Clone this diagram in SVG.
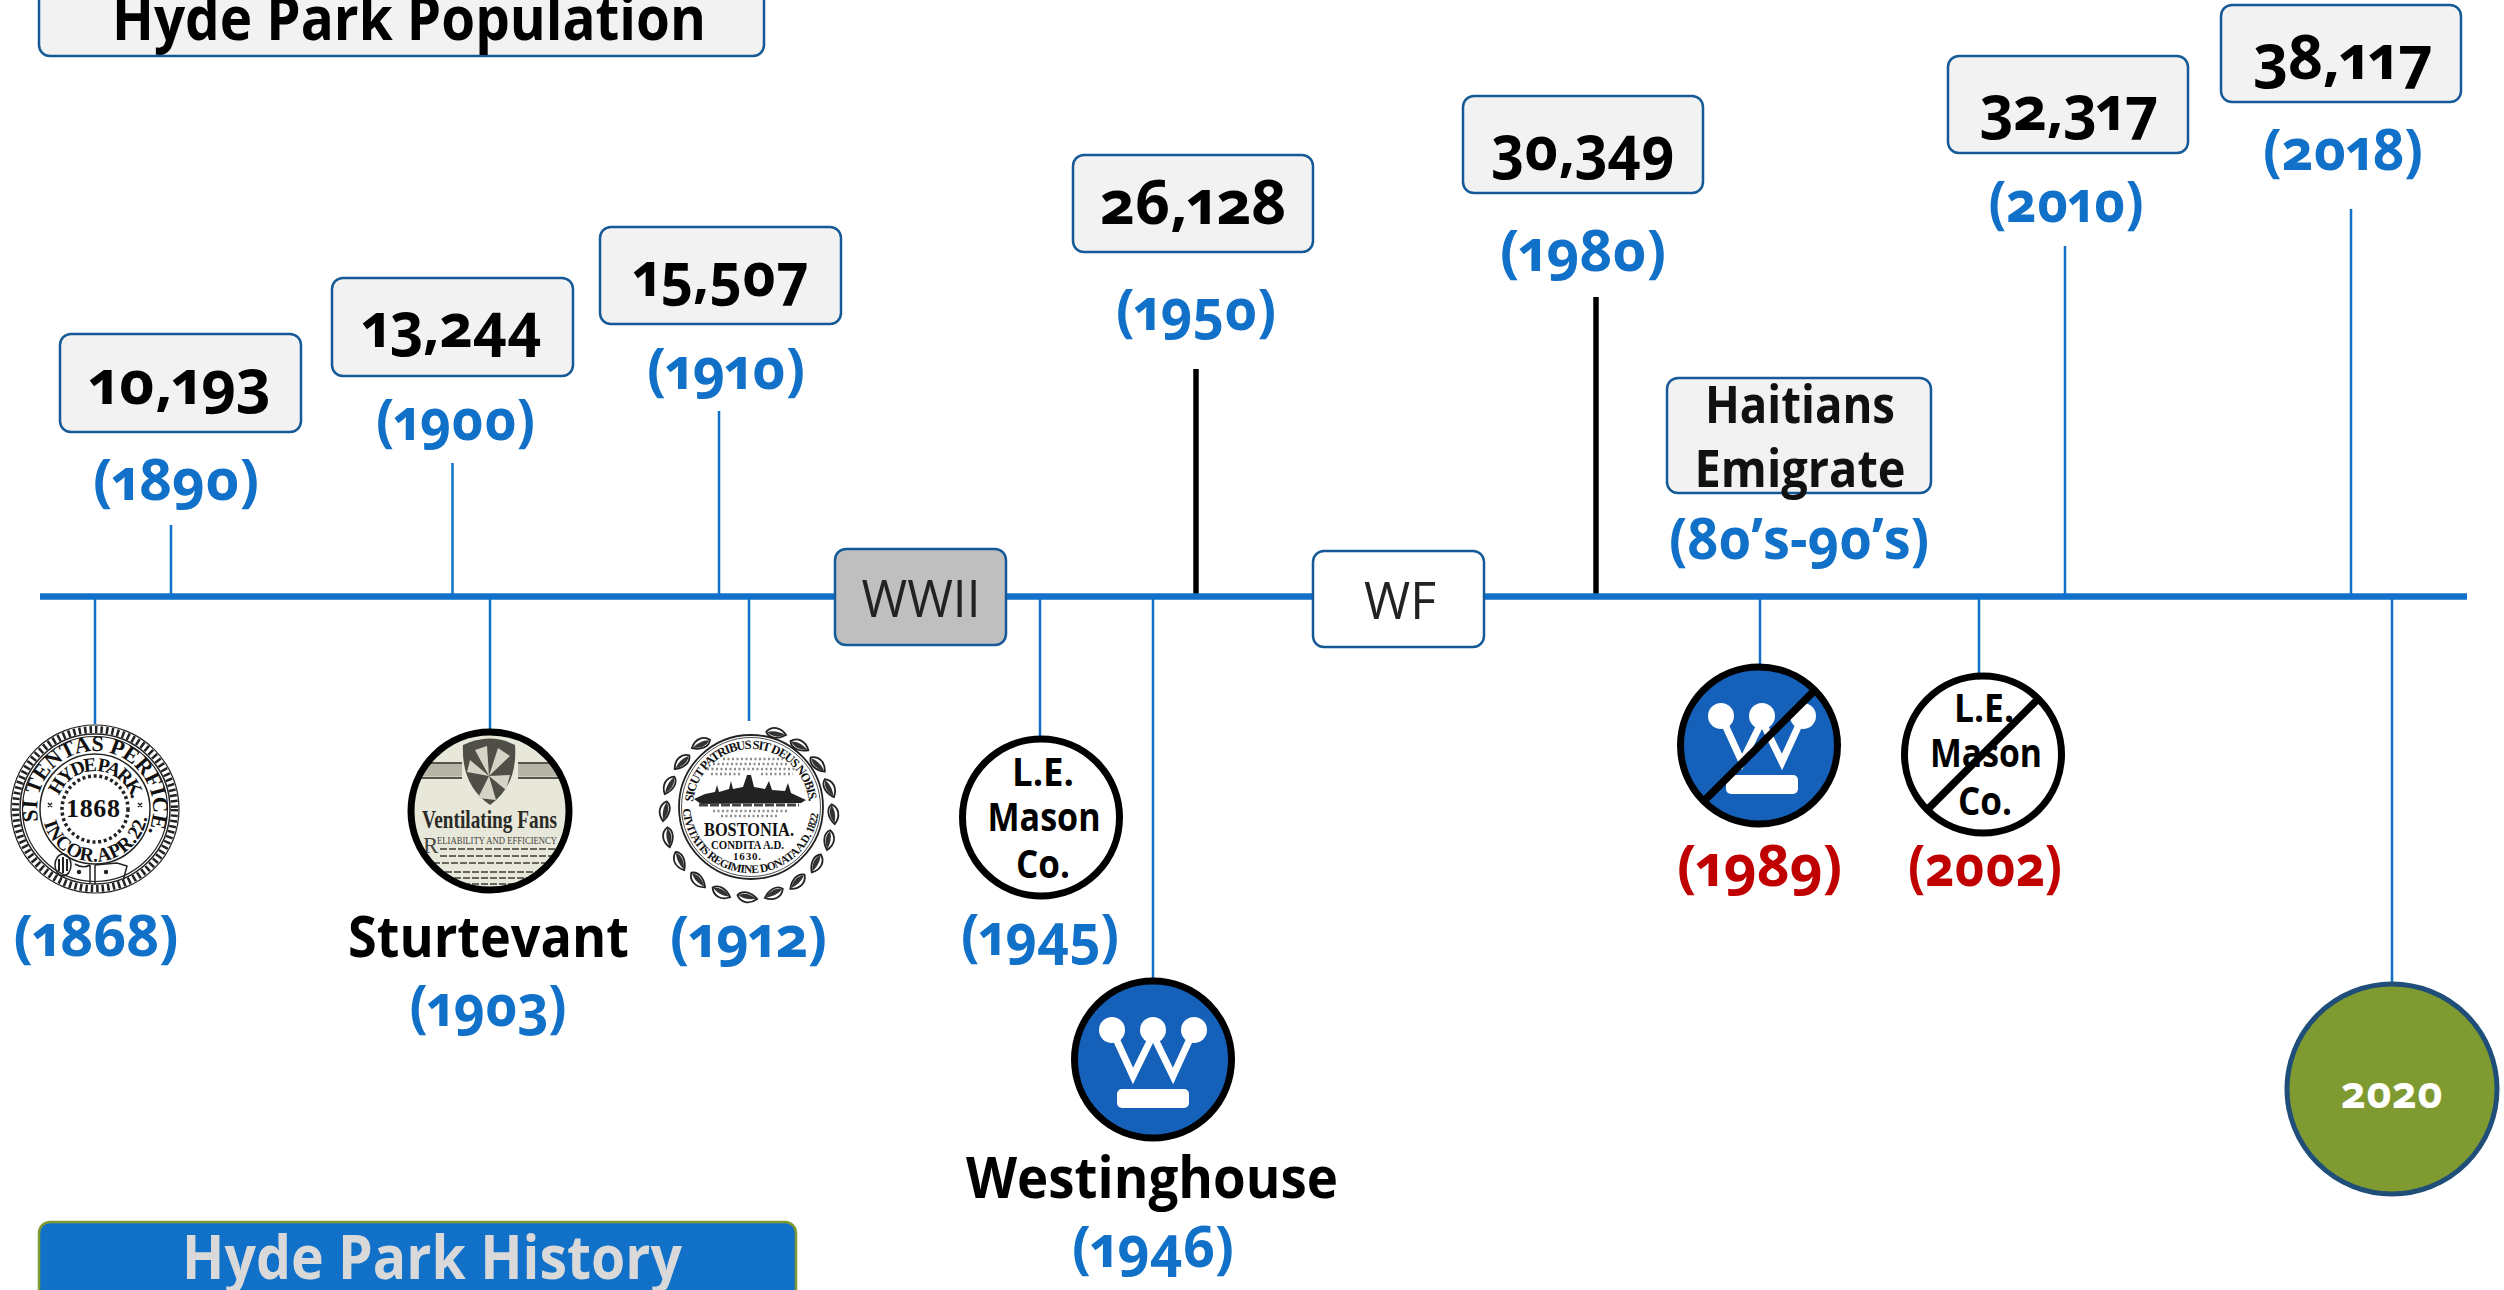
<svg xmlns="http://www.w3.org/2000/svg" width="2504" height="1290" viewBox="0 0 2504 1290">
<style>
text{font-family:"Open Sans","Noto Sans","Liberation Sans",sans-serif;font-feature-settings:"onum","pnum";font-variant-numeric:oldstyle-nums proportional-nums;text-anchor:middle}
.yr{font-size:58px;font-weight:700;fill:#1170C8}
.red{font-size:58px;font-weight:700;fill:#C00000}
.pop{font-size:60px;font-weight:700;fill:#000}
.name{font-size:58px;font-weight:700;fill:#000}
.co{font-size:39px;font-weight:700;fill:#000}
.box{fill:#F2F2F2;stroke:#155A96;stroke-width:2.5}
.lb{font-size:52px;font-weight:700;fill:#111}
.up{stroke:#1170C8;stroke-width:2.5;fill:none}
.dn{stroke:#1170C8;stroke-width:2.5;fill:none}
.blk{stroke:#000;stroke-width:5.5;fill:none}
.rg{stroke:#000;stroke-width:7}
.s{font-family:"Liberation Serif",serif;font-feature-settings:normal;font-variant-numeric:normal;font-weight:700;fill:#111;text-anchor:start}
.s2{stroke:#222;fill:none}
</style>
<defs>
<g id="crown">
<circle cx="-41" cy="-29" r="13" fill="#fff"/><circle cx="0" cy="-29" r="13" fill="#fff"/><circle cx="41" cy="-29" r="13" fill="#fff"/>
<path d="M-41 -29L-20 17L0 -24L20 17L41 -29" fill="none" stroke="#fff" stroke-width="7"/>
<rect x="-36" y="30" width="72" height="19" rx="5" fill="#fff"/>
</g>
<g id="leaf"><path d="M0 0C4 -7 13 -8 20 -1C13 5 4 6 0 0Z" fill="#fff" stroke="#222" stroke-width="1.8"/><path d="M1 0C6 -3 13 -3 19 -1C13 3 6 4 1 0Z" fill="#333"/></g>
<clipPath id="sc"><circle cx="490" cy="811" r="79"/></clipPath>
<path id="a1" d="M-56.7 12A58 58 0 1 1 53.4 22.7"/>
<path id="a2" d="M-35.7 -13A38 38 0 0 1 36.7 -9.8"/>
<path id="a3" d="M-51 14A53 53 0 0 0 52 10"/>
<path id="b1" d="M-57.8 -5A58 58 0 0 1 57.8 -5"/>
<path id="b2" d="M-68 2A68 68 0 0 0 67 9"/>
</defs>

<g id="connectors">
<path class="up" d="M171 596V525M452.500 596V463M719 596V411M2065 596V246M2351 596V209"/>
<path class="blk" d="M1196 596V369M1596 596V297"/>
<path class="dn" d="M95 596V724M490 596V730M749 596V721M1040 596V736M1153 596V979M1760 596V664M1979 596V673M2392 596V984"/>
<path id="axis" d="M40 596.500H2467" stroke="#1170C8" stroke-width="6.500" fill="none"/>
</g>

<g id="title-population"><rect class="box" x="39" y="-30" width="725" height="86" rx="11"/><text x="409" y="40" font-size="60" font-weight="700" textLength="594" lengthAdjust="spacingAndGlyphs">Hyde Park Population</text></g>
<g id="title-history"><rect x="39" y="1222" width="757" height="90" rx="11" fill="#1170C8" stroke="#7F9A30" stroke-width="2.500"/><text x="432" y="1279" font-size="60" font-weight="700" fill="#D9D9D9" textLength="500" lengthAdjust="spacingAndGlyphs">Hyde Park History</text></g>

<g id="p1890"><rect class="box" x="60" y="334" width="241" height="98" rx="11"/><text class="pop" x="180" y="404" textLength="181" lengthAdjust="spacingAndGlyphs">10,193</text><text class="yr" x="176" y="500" textLength="166" lengthAdjust="spacingAndGlyphs">(1890)</text></g>
<g id="p1900"><rect class="box" x="332" y="278" width="241" height="98" rx="11"/><text class="pop" x="452" y="347" textLength="179" lengthAdjust="spacingAndGlyphs">13,244</text><text class="yr" x="455.500" y="440" textLength="159" lengthAdjust="spacingAndGlyphs">(1900)</text></g>
<g id="p1910"><rect class="box" x="600" y="227" width="241" height="97" rx="11"/><text class="pop" x="721" y="296" textLength="175" lengthAdjust="spacingAndGlyphs">15,507</text><text class="yr" x="726" y="389" textLength="158" lengthAdjust="spacingAndGlyphs">(1910)</text></g>
<g id="p1950"><rect class="box" x="1073" y="155" width="240" height="97" rx="11"/><text class="pop" x="1193" y="224" textLength="186" lengthAdjust="spacingAndGlyphs">26,128</text><text class="yr" x="1196" y="330" textLength="160" lengthAdjust="spacingAndGlyphs">(1950)</text></g>
<g id="p1980"><rect class="box" x="1463" y="96" width="240" height="97" rx="11"/><text class="pop" x="1583" y="170" textLength="183" lengthAdjust="spacingAndGlyphs">30,349</text><text class="yr" x="1583" y="271" textLength="166" lengthAdjust="spacingAndGlyphs">(1980)</text></g>
<g id="p2010"><rect class="box" x="1948" y="56" width="240" height="97" rx="11"/><text class="pop" x="2069" y="130" textLength="178" lengthAdjust="spacingAndGlyphs">32,317</text><text class="yr" x="2066" y="222" textLength="155" lengthAdjust="spacingAndGlyphs">(2010)</text></g>
<g id="p2018"><rect class="box" x="2221" y="5" width="240" height="97" rx="11"/><text class="pop" x="2343" y="79" textLength="179" lengthAdjust="spacingAndGlyphs">38,117</text><text class="yr" x="2343" y="170" textLength="160" lengthAdjust="spacingAndGlyphs">(2018)</text></g>

<g id="haitians"><rect class="box" x="1667" y="378" width="264" height="115" rx="11"/><text class="lb" x="1800" y="423" textLength="190" lengthAdjust="spacingAndGlyphs">Haitians</text><text class="lb" x="1800" y="487" textLength="211" lengthAdjust="spacingAndGlyphs">Emigrate</text><text class="yr" x="1799" y="559" textLength="260" lengthAdjust="spacingAndGlyphs">(80’s-90’s)</text></g>

<g id="wwii"><rect x="835" y="549" width="171" height="96" rx="11" fill="#BFBFBF" stroke="#155A96" stroke-width="2.500"/><text x="921" y="617" font-size="52" fill="#222" textLength="119" lengthAdjust="spacingAndGlyphs">WWII</text></g>
<g id="wf"><rect x="1313" y="551" width="171" height="96" rx="11" fill="#fff" stroke="#155A96" stroke-width="2.500"/><text x="1400" y="619" font-size="52" fill="#222" textLength="72" lengthAdjust="spacingAndGlyphs">WF</text></g>

<g id="seal1868" transform="translate(95 809)">
<circle r="84" class="s2" stroke-width="1.200"/>
<circle r="79.500" class="s2" stroke-width="7" stroke-dasharray="2.500 3"/>
<circle r="75" class="s2" stroke-width="1.500"/><circle r="72.500" class="s2" stroke-width="1.200"/>
<text class="s" font-size="22"><textPath href="#a1" textLength="218">SI TENTAS PERFICE.</textPath></text>
<circle r="55" class="s2" stroke-width="1.500"/>
<text class="s" font-size="19.500"><textPath href="#a2" textLength="96">HYDE PARK.</textPath></text>
<text class="s" font-size="19.500"><textPath href="#a3" textLength="143">INCOR.APR.22.</textPath></text>
<circle r="33" class="s2" stroke-width="3.500" stroke-dasharray="3 2.700"/>
<path class="s2" stroke-width="1.500" d="M-47 -6L-43 -2M-43 -6L-47 -2M43 -6L47 -2M47 -6L43 -2"/>
<text class="s" x="-29" y="8" font-size="26" textLength="54">1868</text>
<path class="s2" stroke-width="1.500" d="M-5 56V74M0 56V75M-5 56Q-12 60 -20 55M0 56L22 54L32 57L28 72"/>
<ellipse cx="-32" cy="56" rx="8" ry="11" class="s2" stroke-width="1.500"/>
<path class="s2" stroke-width="2" d="M-36 50V62M-32 48V64M-28 50V62"/>
<circle cx="-16" cy="63" r="2.200" fill="#222"/><circle cx="11" cy="63" r="2.200" fill="#222"/>
</g>
<text class="yr" x="96" y="956" textLength="165" lengthAdjust="spacingAndGlyphs">(1868)</text>

<g id="sturtevant">
<circle cx="490" cy="811" r="79" fill="#E8E8DA"/>
<g clip-path="url(#sc)">
<path d="M405 770H462M518 770H575" stroke="#B5B4A6" stroke-width="13" fill="none"/>
<path d="M405 763H462M405 778H462M518 763H575M518 778H575" stroke="#55554E" stroke-width="2" fill="none"/>
<path d="M463 745Q490 732 515 745Q518 785 490 805Q461 785 463 745Z" fill="#4F4F48"/>
<path d="M489 776L470 760L467 772ZM489 776L478 798L496 800ZM489 776L510 775L506 790ZM489 776L498 748L510 756ZM489 776L475 750L487 746Z" fill="#D4D4C6"/>
<text class="s" x="422" y="828" font-size="26" textLength="135" lengthAdjust="spacingAndGlyphs" style="fill:#2A2A26">Ventilating Fans</text>
<text class="s" x="423" y="853" font-size="23" style="font-weight:400;fill:#444">R</text>
<text class="s" x="437" y="844" font-size="10" textLength="120" lengthAdjust="spacingAndGlyphs" style="font-weight:400;fill:#444">ELIABILITY AND EFFICIENCY</text>
<path d="M440 849H557M440 856H557M424 863H557M436 872H557M436 878H557M445 884H557" stroke="#66665E" stroke-width="2" stroke-dasharray="7 2" fill="none"/>
</g>
<circle cx="490" cy="811" r="79" class="rg" fill="none"/>
<text class="name" x="488.500" y="957" textLength="281" lengthAdjust="spacingAndGlyphs">Sturtevant</text>
<text class="yr" x="488" y="1026" textLength="157" lengthAdjust="spacingAndGlyphs">(1903)</text>
</g>

<g id="seal1912">
<g transform="translate(749 813)">
<use href="#leaf" transform="rotate(12) translate(0 -83)"/><use href="#leaf" transform="rotate(30) translate(0 -83)"/><use href="#leaf" transform="rotate(48) translate(0 -83)"/><use href="#leaf" transform="rotate(66) translate(0 -83)"/><use href="#leaf" transform="rotate(84) translate(0 -83)"/><use href="#leaf" transform="rotate(102) translate(0 -83)"/><use href="#leaf" transform="rotate(120) translate(0 -83)"/><use href="#leaf" transform="rotate(138) translate(0 -83)"/><use href="#leaf" transform="rotate(156) translate(0 -83)"/>
<use href="#leaf" transform="rotate(-172) scale(-1 1) translate(0 -83)"/><use href="#leaf" transform="rotate(-154) scale(-1 1) translate(0 -83)"/><use href="#leaf" transform="rotate(-136) scale(-1 1) translate(0 -83)"/><use href="#leaf" transform="rotate(-118) scale(-1 1) translate(0 -83)"/><use href="#leaf" transform="rotate(-100) scale(-1 1) translate(0 -83)"/><use href="#leaf" transform="rotate(-82) scale(-1 1) translate(0 -83)"/><use href="#leaf" transform="rotate(-64) scale(-1 1) translate(0 -83)"/><use href="#leaf" transform="rotate(-46) scale(-1 1) translate(0 -83)"/><use href="#leaf" transform="rotate(-28) scale(-1 1) translate(0 -83)"/>
</g>
<g transform="translate(751 807)">
<circle r="72" fill="#fff" stroke="#222" stroke-width="1.800"/><circle r="69.500" class="s2" stroke-width=".8"/>
<text class="s" font-size="12.500"><textPath href="#b1" textLength="172">SICUT PATRIBUS SIT DEUS NOBIS.</textPath></text>
<text class="s" font-size="11.500"><textPath href="#b2" textLength="203">CIVITATIS REGIMINE DONATA A.D. 1822.</textPath></text>
<path d="M-57 -8L-46 -13L-36 -15L-34 -22L-32 -15L-22 -18L-20 -26L-18 -18L-8 -20L-4 -32L0 -32L3 -20L14 -18L18 -26L21 -17L34 -16L37 -24L40 -14L55 -7L50 -4L-50 -3Z" fill="#222"/>
<path d="M-52 -2H48" stroke="#444" stroke-width="3" stroke-dasharray="9 2"/>
<path d="M-28 -48H32M-38 -43H38M-44 -38H44M-40 -33H-10M10 -33H42M-38 4H36M-30 9H28" stroke="#8C8C8C" stroke-width="2.500" stroke-dasharray="2 2.500" fill="none"/>
<text class="s" x="-47" y="29" font-size="18.500" textLength="90" lengthAdjust="spacingAndGlyphs">BOSTONIA.</text>
<text class="s" x="-40" y="42" font-size="13.500" textLength="73" lengthAdjust="spacingAndGlyphs">CONDITA A.D.</text>
<text class="s" x="-18" y="53" font-size="11" textLength="28">1630.</text>
</g>
</g>
<text class="yr" x="748.500" y="957" textLength="157" lengthAdjust="spacingAndGlyphs">(1912)</text>

<g id="lemason">
<circle cx="1041" cy="817.500" r="78.500" fill="#fff" class="rg"/>
<text class="co" x="1043" y="786" textLength="62" lengthAdjust="spacingAndGlyphs">L.E.</text>
<text class="co" x="1044" y="830.500" textLength="113" lengthAdjust="spacingAndGlyphs">Mason</text>
<text class="co" x="1043" y="878" textLength="54" lengthAdjust="spacingAndGlyphs">Co.</text>
<text class="yr" x="1040" y="955" textLength="158" lengthAdjust="spacingAndGlyphs">(1945)</text>
</g>

<g id="westinghouse">
<circle cx="1153" cy="1059.500" r="78.500" fill="#1560B8" class="rg"/>
<use href="#crown" x="1153" y="1059"/>
<text class="name" x="1152" y="1198" textLength="372" lengthAdjust="spacingAndGlyphs">Westinghouse</text>
<text class="yr" x="1153" y="1267" textLength="162" lengthAdjust="spacingAndGlyphs">(1946)</text>
</g>

<g id="west1989">
<circle cx="1759" cy="745.500" r="78.500" fill="#1560B8" class="rg"/>
<use href="#crown" x="1762" y="745"/>
<path d="M1813 692L1705 800" stroke="#000" stroke-width="7.500"/>
<text class="red" x="1759.500" y="886" textLength="165" lengthAdjust="spacingAndGlyphs">(1989)</text>
</g>

<g id="mason2002">
<circle cx="1983" cy="754.500" r="78.500" fill="#fff" class="rg"/>
<text class="co" x="1984" y="722" textLength="60" lengthAdjust="spacingAndGlyphs">L.E.</text>
<text class="co" x="1986" y="767" textLength="112" lengthAdjust="spacingAndGlyphs">Mason</text>
<text class="co" x="1985" y="815" textLength="54" lengthAdjust="spacingAndGlyphs">Co.</text>
<path d="M2037 700L1928 809" stroke="#000" stroke-width="7.500"/>
<text class="red" x="1985" y="886" textLength="154" lengthAdjust="spacingAndGlyphs">(2002)</text>
</g>

<g id="y2020"><circle cx="2392" cy="1089" r="105" fill="#7F9A30" stroke="#1F4E79" stroke-width="5"/><text x="2392" y="1108" font-size="44" font-weight="700" fill="#fff" textLength="102" lengthAdjust="spacingAndGlyphs">2020</text></g>
</svg>
